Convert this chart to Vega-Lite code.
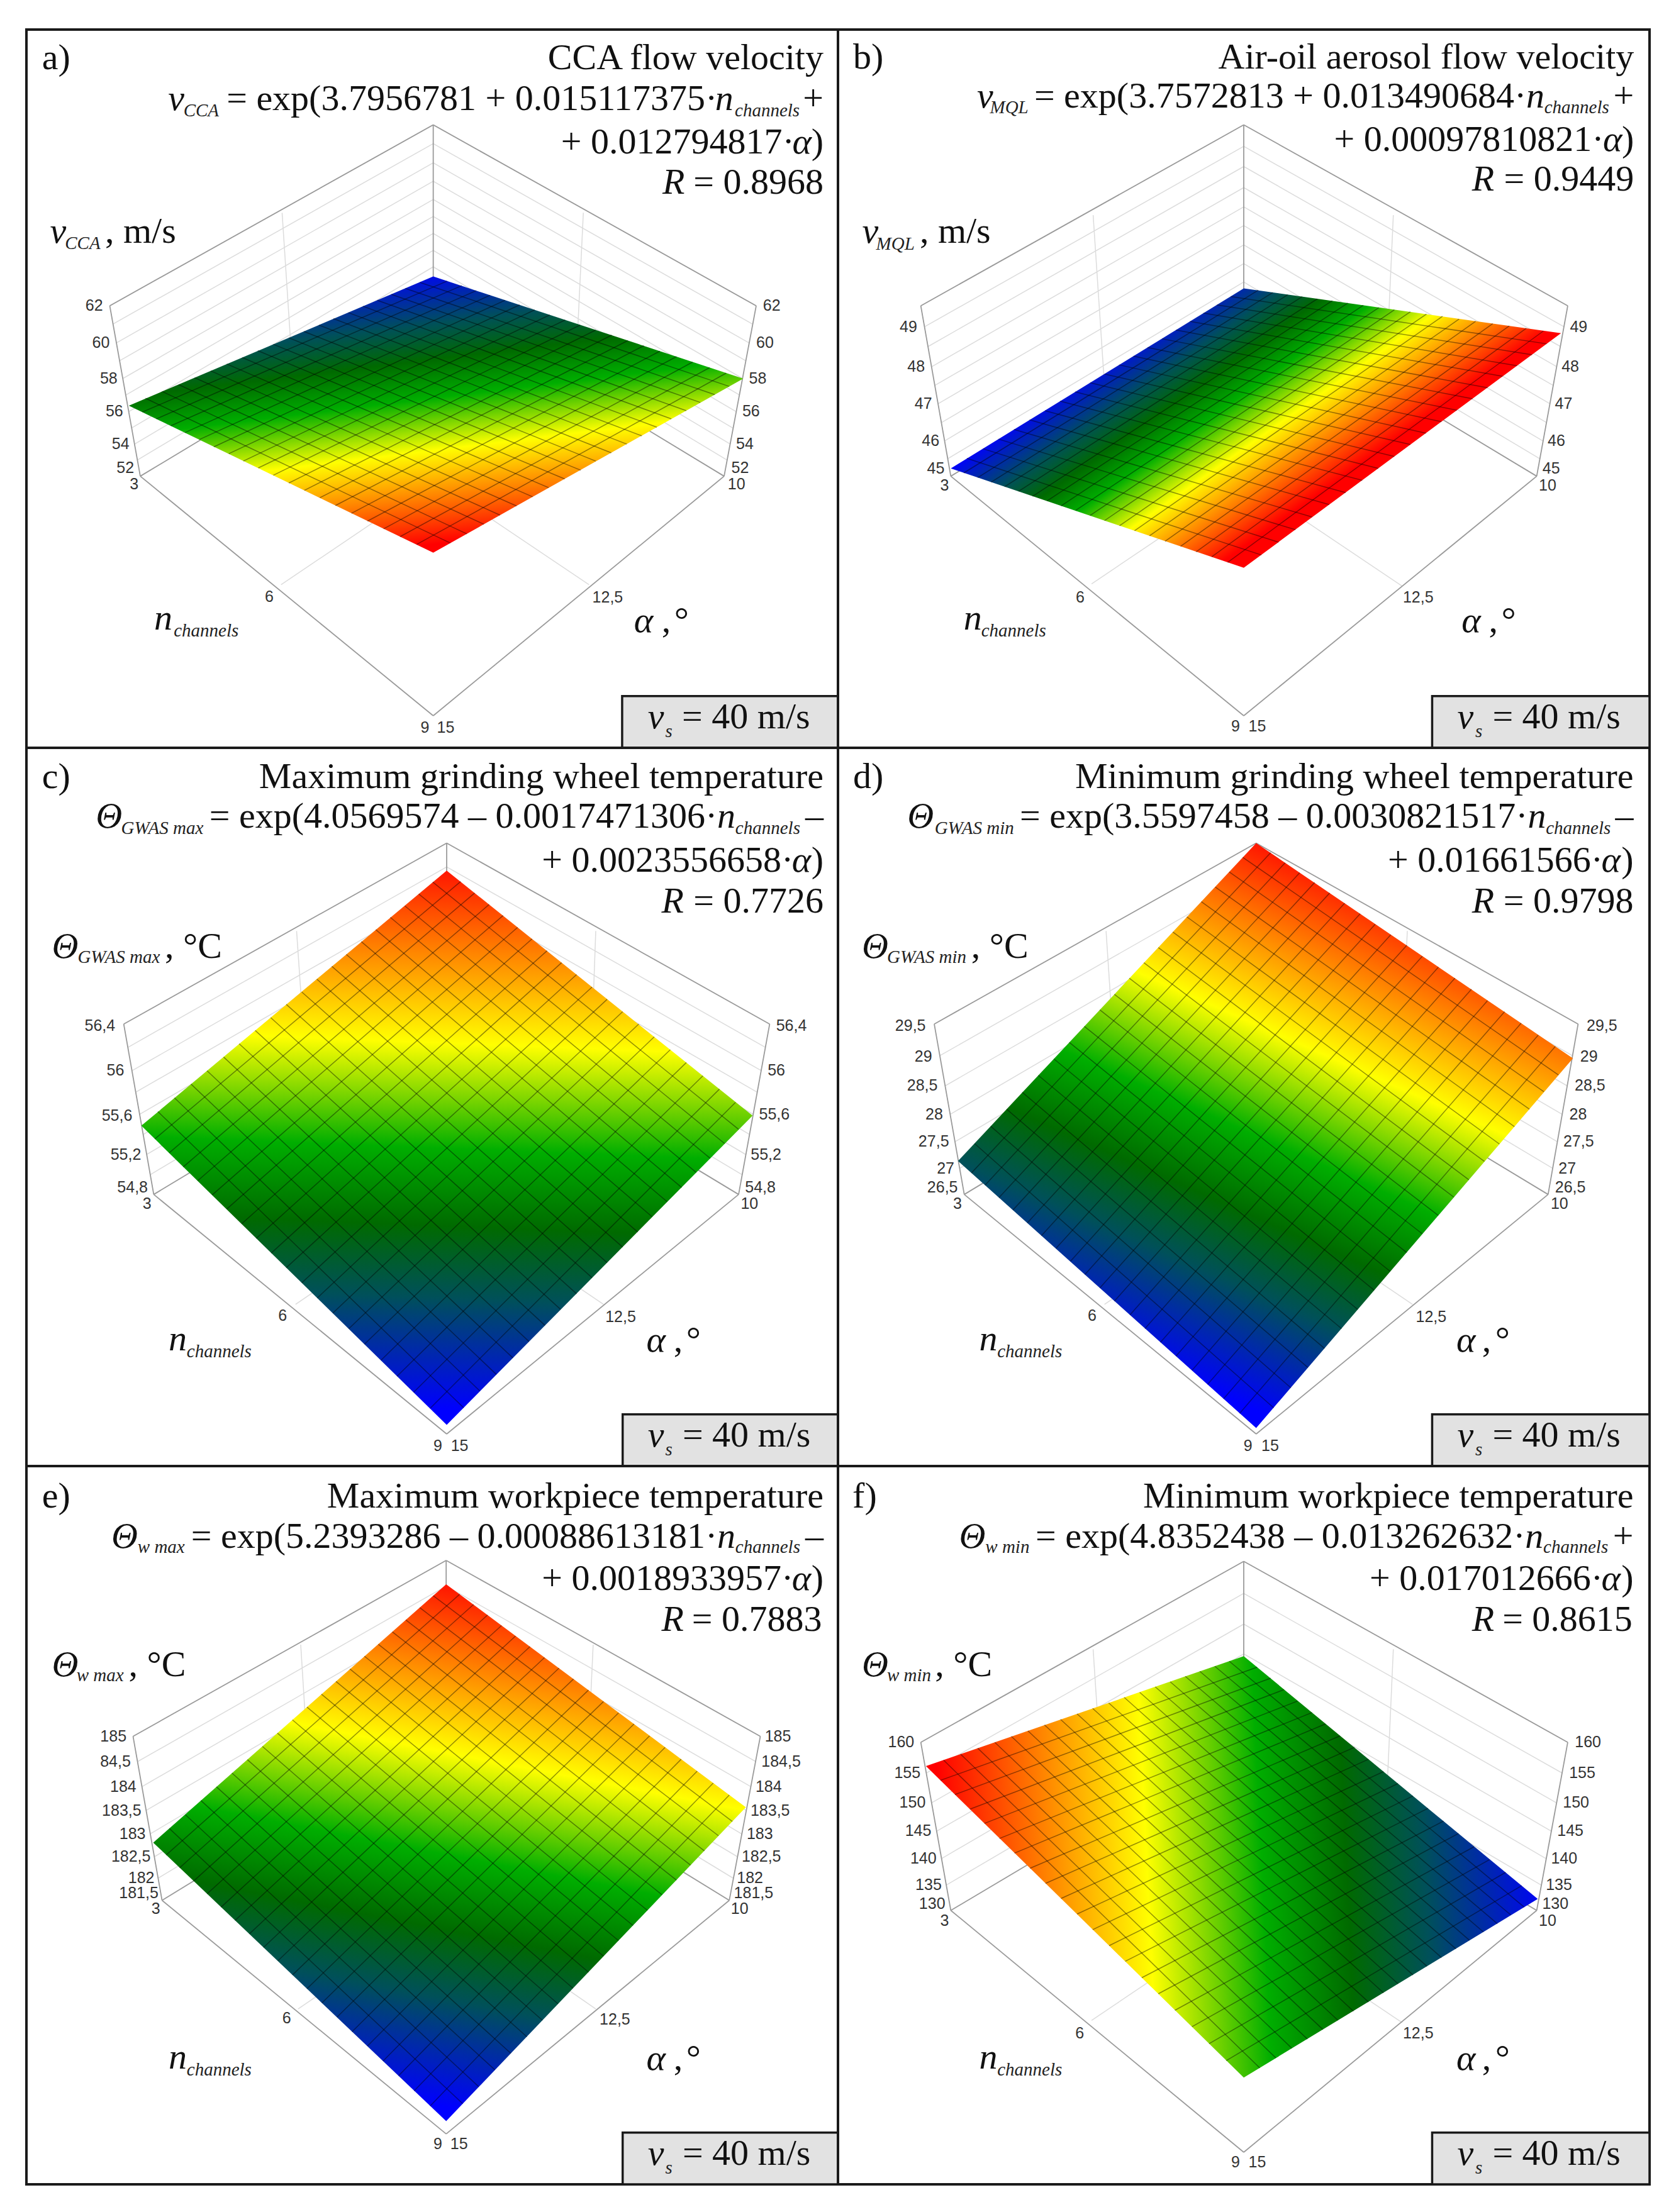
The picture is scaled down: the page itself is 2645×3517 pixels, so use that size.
{"$schema":"https://vega.github.io/schema/vega-lite/v6.json","background":"white","padding":{"left":40,"top":35,"right":0,"bottom":0},"spacing":0,"columns":2,"bounds":"flush","config":{"view":{"stroke":"#1a1a1a","strokeWidth":4},"header":{"labelColor":"#ffffff","titleColor":"#ffffff"},"headerFacet":{"labelColor":"#ffffff","titleColor":"#ffffff"}},
"data":{"values":[
{"p":"a","r":"w","x":161,"y":603,"x2":786,"y2":208,"x3":1410,"y3":603},{"p":"a","r":"w","x":167,"y":643,"x2":786,"y2":249,"x3":1403,"y3":643},{"p":"a","r":"w","x":174,"y":684,"x2":786,"y2":291,"x3":1396,"y3":684},{"p":"a","r":"w","x":180,"y":723,"x2":786,"y2":331,"x3":1390,"y3":723},{"p":"a","r":"w","x":186,"y":762,"x2":786,"y2":371,"x3":1384,"y3":762},{"p":"a","r":"w","x":192,"y":798,"x2":786,"y2":408,"x3":1378,"y3":798},{"p":"a","r":"w","x":198,"y":834,"x2":786,"y2":445,"x3":1371,"y3":834},{"p":"a","r":"w","x":203,"y":870,"x2":786,"y2":482,"x3":1365,"y3":870},{"p":"a","r":"w","x":209,"y":905,"x2":786,"y2":518,"x3":1360,"y3":905},{"p":"a","r":"w","x":214,"y":940,"x2":786,"y2":554,"x3":1354,"y3":940},
{"p":"b","r":"w","x":167,"y":649,"x2":784,"y2":255,"x3":1403,"y3":649},{"p":"b","r":"w","x":174,"y":692,"x2":784,"y2":299,"x3":1396,"y3":692},{"p":"b","r":"w","x":181,"y":736,"x2":784,"y2":345,"x3":1389,"y3":736},{"p":"b","r":"w","x":187,"y":777,"x2":784,"y2":387,"x3":1382,"y3":777},{"p":"b","r":"w","x":193,"y":817,"x2":784,"y2":428,"x3":1376,"y3":817},{"p":"b","r":"w","x":200,"y":858,"x2":784,"y2":470,"x3":1369,"y3":858},{"p":"b","r":"w","x":206,"y":898,"x2":784,"y2":511,"x3":1362,"y3":898},{"p":"b","r":"w","x":212,"y":937,"x2":784,"y2":551,"x3":1356,"y3":937},
{"p":"c","r":"w","x":196,"y":654,"x2":812,"y2":260,"x3":1428,"y3":654},{"p":"c","r":"w","x":204,"y":705,"x2":812,"y2":313,"x3":1420,"y3":705},{"p":"c","r":"w","x":211,"y":752,"x2":812,"y2":361,"x3":1412,"y3":752},{"p":"c","r":"w","x":219,"y":800,"x2":812,"y2":410,"x3":1404,"y3":800},{"p":"c","r":"w","x":226,"y":844,"x2":812,"y2":456,"x3":1397,"y3":844},{"p":"c","r":"w","x":232,"y":888,"x2":812,"y2":501,"x3":1390,"y3":888},{"p":"c","r":"w","x":239,"y":932,"x2":812,"y2":546,"x3":1383,"y3":932},
{"p":"d","r":"w","x":197,"y":672,"x2":808,"y2":279,"x3":1419,"y3":672},{"p":"d","r":"w","x":207,"y":738,"x2":808,"y2":347,"x3":1409,"y3":738},{"p":"d","r":"w","x":217,"y":800,"x2":808,"y2":410,"x3":1399,"y3":800},{"p":"d","r":"w","x":226,"y":860,"x2":808,"y2":472,"x3":1390,"y3":860},{"p":"d","r":"w","x":235,"y":918,"x2":808,"y2":532,"x3":1381,"y3":918},
{"p":"e","r":"w","x":215,"y":645,"x2":811,"y2":262,"x3":1409,"y3":645},{"p":"e","r":"w","x":223,"y":700,"x2":811,"y2":317,"x3":1400,"y3":700},{"p":"e","r":"w","x":231,"y":752,"x2":811,"y2":370,"x3":1391,"y3":752},{"p":"e","r":"w","x":239,"y":803,"x2":811,"y2":421,"x3":1382,"y3":803},{"p":"e","r":"w","x":247,"y":853,"x2":811,"y2":472,"x3":1374,"y3":853},{"p":"e","r":"w","x":254,"y":900,"x2":811,"y2":519,"x3":1366,"y3":900},
{"p":"f","r":"w","x":171,"y":670,"x2":784,"y2":278,"x3":1399,"y3":670},{"p":"f","r":"w","x":181,"y":735,"x2":784,"y2":345,"x3":1388,"y3":735},{"p":"f","r":"w","x":191,"y":797,"x2":784,"y2":410,"x3":1378,"y3":797},{"p":"f","r":"w","x":200,"y":857,"x2":784,"y2":472,"x3":1368,"y3":857},{"p":"f","r":"w","x":209,"y":915,"x2":784,"y2":533,"x3":1359,"y3":915},
{"p":"a","r":"v","x":494,"y":400,"x2":516,"y2":778},{"p":"a","r":"v","x":1076,"y":400,"x2":1060,"y2":778},{"p":"a","r":"v","x":492,"y":1212,"x2":1060,"y2":778},{"p":"a","r":"v","x":1087,"y":1212,"x2":516,"y2":778},
{"p":"b","r":"v","x":493,"y":405,"x2":515,"y2":778},{"p":"b","r":"v","x":1073,"y":405,"x2":1058,"y2":778},{"p":"b","r":"v","x":490,"y":1210,"x2":1058,"y2":778},{"p":"b","r":"v","x":1090,"y":1215,"x2":515,"y2":778},
{"p":"c","r":"v","x":522,"y":400,"x2":545,"y2":778},{"p":"c","r":"v","x":1100,"y":400,"x2":1088,"y2":778},{"p":"c","r":"v","x":520,"y":1215,"x2":1088,"y2":778},{"p":"c","r":"v","x":1115,"y":1215,"x2":545,"y2":778},
{"p":"d","r":"v","x":518,"y":400,"x2":540,"y2":778},{"p":"d","r":"v","x":1100,"y":400,"x2":1085,"y2":778},{"p":"d","r":"v","x":515,"y":1215,"x2":1085,"y2":778},{"p":"d","r":"v","x":1110,"y":1215,"x2":540,"y2":778},
{"p":"e","r":"v","x":530,"y":390,"x2":550,"y2":755},{"p":"e","r":"v","x":1095,"y":390,"x2":1080,"y2":755},{"p":"e","r":"v","x":525,"y":1185,"x2":1080,"y2":755},{"p":"e","r":"v","x":1100,"y":1185,"x2":550,"y2":755},
{"p":"f","r":"v","x":493,"y":400,"x2":515,"y2":778},{"p":"f","r":"v","x":1073,"y":400,"x2":1058,"y2":778},{"p":"f","r":"v","x":490,"y":1210,"x2":1058,"y2":778},{"p":"f","r":"v","x":1090,"y":1215,"x2":515,"y2":778},
{"p":"a","r":"f","x":161,"y":603,"x2":786,"y2":208},{"p":"a","r":"f","x":786,"y":208,"x2":1410,"y2":603},{"p":"a","r":"f","x":161,"y":603,"x2":220,"y2":975},{"p":"a","r":"f","x":1410,"y":603,"x2":1348,"y2":975},{"p":"a","r":"f","x":786,"y":208,"x2":786,"y2":590},{"p":"a","r":"f","x":220,"y":975,"x2":786,"y2":1498},{"p":"a","r":"f","x":1348,"y":975,"x2":786,"y2":1498},{"p":"a","r":"f","x":220,"y":975,"x2":786,"y2":590},{"p":"a","r":"f","x":1348,"y":975,"x2":786,"y2":590},
{"p":"b","r":"f","x":160,"y":603,"x2":784,"y2":208},{"p":"b","r":"f","x":784,"y":208,"x2":1410,"y2":603},{"p":"b","r":"f","x":160,"y":603,"x2":218,"y2":975},{"p":"b","r":"f","x":1410,"y":603,"x2":1350,"y2":975},{"p":"b","r":"f","x":784,"y":208,"x2":784,"y2":590},{"p":"b","r":"f","x":218,"y":975,"x2":784,"y2":1498},{"p":"b","r":"f","x":1350,"y":975,"x2":784,"y2":1498},{"p":"b","r":"f","x":218,"y":975,"x2":784,"y2":590},{"p":"b","r":"f","x":1350,"y":975,"x2":784,"y2":590},
{"p":"c","r":"f","x":188,"y":603,"x2":812,"y2":208},{"p":"c","r":"f","x":812,"y":208,"x2":1436,"y2":603},{"p":"c","r":"f","x":188,"y":603,"x2":246,"y2":975},{"p":"c","r":"f","x":1436,"y":603,"x2":1376,"y2":975},{"p":"c","r":"f","x":812,"y":208,"x2":812,"y2":590},{"p":"c","r":"f","x":246,"y":975,"x2":812,"y2":1498},{"p":"c","r":"f","x":1376,"y":975,"x2":812,"y2":1498},{"p":"c","r":"f","x":246,"y":975,"x2":812,"y2":590},{"p":"c","r":"f","x":1376,"y":975,"x2":812,"y2":590},
{"p":"d","r":"f","x":186,"y":603,"x2":808,"y2":208},{"p":"d","r":"f","x":808,"y":208,"x2":1430,"y2":603},{"p":"d","r":"f","x":186,"y":603,"x2":244,"y2":975},{"p":"d","r":"f","x":1430,"y":603,"x2":1372,"y2":975},{"p":"d","r":"f","x":808,"y":208,"x2":808,"y2":590},{"p":"d","r":"f","x":244,"y":975,"x2":808,"y2":1498},{"p":"d","r":"f","x":1372,"y":975,"x2":808,"y2":1498},{"p":"d","r":"f","x":244,"y":975,"x2":808,"y2":590},{"p":"d","r":"f","x":1372,"y":975,"x2":808,"y2":590},
{"p":"e","r":"f","x":206,"y":590,"x2":811,"y2":206},{"p":"e","r":"f","x":811,"y":206,"x2":1418,"y2":590},{"p":"e","r":"f","x":206,"y":590,"x2":262,"y2":948},{"p":"e","r":"f","x":1418,"y":590,"x2":1358,"y2":948},{"p":"e","r":"f","x":811,"y":206,"x2":811,"y2":568},{"p":"e","r":"f","x":262,"y":948,"x2":811,"y2":1458},{"p":"e","r":"f","x":1358,"y":948,"x2":811,"y2":1458},{"p":"e","r":"f","x":262,"y":948,"x2":811,"y2":568},{"p":"e","r":"f","x":1358,"y":948,"x2":811,"y2":568},
{"p":"f","r":"f","x":160,"y":603,"x2":784,"y2":208},{"p":"f","r":"f","x":784,"y":208,"x2":1410,"y2":603},{"p":"f","r":"f","x":160,"y":603,"x2":218,"y2":970},{"p":"f","r":"f","x":1410,"y":603,"x2":1350,"y2":970},{"p":"f","r":"f","x":784,"y":208,"x2":784,"y2":590},{"p":"f","r":"f","x":218,"y":970,"x2":784,"y2":1498},{"p":"f","r":"f","x":1350,"y":970,"x2":784,"y2":1498},{"p":"f","r":"f","x":218,"y":970,"x2":784,"y2":590},{"p":"f","r":"f","x":1350,"y":970,"x2":784,"y2":590},
{"p":"a","r":"s","x":198,"y":821,"y2":821},{"p":"a","r":"s","x":786,"y":539,"y2":1142},{"p":"a","r":"s","x":1385,"y":762,"y2":762},
{"p":"b","r":"s","x":218,"y":958,"y2":958},{"p":"b","r":"s","x":784,"y":565,"y2":1175},{"p":"b","r":"s","x":1397,"y":663,"y2":663},
{"p":"c","r":"s","x":222,"y":825,"y2":825},{"p":"c","r":"s","x":812,"y":268,"y2":1478},{"p":"c","r":"s","x":1403,"y":803,"y2":803},
{"p":"d","r":"s","x":232,"y":902,"y2":902},{"p":"d","r":"s","x":808,"y":208,"y2":1485},{"p":"d","r":"s","x":1420,"y":678,"y2":678},
{"p":"e","r":"s","x":245,"y":822,"y2":822},{"p":"e","r":"s","x":811,"y":258,"y2":1430},{"p":"e","r":"s","x":1390,"y":745,"y2":745},
{"p":"f","r":"s","x":170,"y":655,"y2":655},{"p":"f","r":"s","x":784,"y":415,"y2":1335},{"p":"f","r":"s","x":1352,"y":945,"y2":945},
{"p":"a","r":"g","x":230,"y":805,"x2":819,"y2":1121},{"p":"a","r":"g","x":262,"y":790,"x2":851,"y2":1101},{"p":"a","r":"g","x":294,"y":775,"x2":884,"y2":1080},{"p":"a","r":"g","x":325,"y":760,"x2":915,"y2":1060},{"p":"a","r":"g","x":356,"y":745,"x2":947,"y2":1040},{"p":"a","r":"g","x":387,"y":730,"x2":978,"y2":1020},{"p":"a","r":"g","x":417,"y":716,"x2":1009,"y2":1000},{"p":"a","r":"g","x":447,"y":701,"x2":1040,"y2":981},{"p":"a","r":"g","x":477,"y":687,"x2":1071,"y2":962},{"p":"a","r":"g","x":507,"y":673,"x2":1100,"y2":942},{"p":"a","r":"g","x":536,"y":659,"x2":1130,"y2":924},{"p":"a","r":"g","x":565,"y":645,"x2":1160,"y2":905},{"p":"a","r":"g","x":593,"y":631,"x2":1189,"y2":887},{"p":"a","r":"g","x":622,"y":618,"x2":1218,"y2":868},{"p":"a","r":"g","x":650,"y":604,"x2":1246,"y2":850},{"p":"a","r":"g","x":678,"y":591,"x2":1275,"y2":832},{"p":"a","r":"g","x":705,"y":578,"x2":1302,"y2":814},{"p":"a","r":"g","x":732,"y":565,"x2":1330,"y2":797},{"p":"a","r":"g","x":760,"y":552,"x2":1358,"y2":779},
{"p":"a","r":"g","x":754,"y":1124,"x2":1352,"y2":750},{"p":"a","r":"g","x":722,"y":1107,"x2":1320,"y2":738},{"p":"a","r":"g","x":690,"y":1090,"x2":1287,"y2":726},{"p":"a","r":"g","x":659,"y":1073,"x2":1256,"y2":714},{"p":"a","r":"g","x":628,"y":1056,"x2":1224,"y2":702},{"p":"a","r":"g","x":597,"y":1039,"x2":1193,"y2":690},{"p":"a","r":"g","x":567,"y":1022,"x2":1162,"y2":679},{"p":"a","r":"g","x":537,"y":1006,"x2":1131,"y2":667},{"p":"a","r":"g","x":507,"y":990,"x2":1100,"y2":656},{"p":"a","r":"g","x":477,"y":973,"x2":1070,"y2":645},{"p":"a","r":"g","x":448,"y":957,"x2":1041,"y2":634},{"p":"a","r":"g","x":419,"y":942,"x2":1011,"y2":623},{"p":"a","r":"g","x":391,"y":926,"x2":982,"y2":612},{"p":"a","r":"g","x":362,"y":911,"x2":953,"y2":601},{"p":"a","r":"g","x":334,"y":895,"x2":925,"y2":591},{"p":"a","r":"g","x":306,"y":880,"x2":896,"y2":580},{"p":"a","r":"g","x":279,"y":865,"x2":869,"y2":570},{"p":"a","r":"g","x":251,"y":850,"x2":841,"y2":559},{"p":"a","r":"g","x":224,"y":835,"x2":813,"y2":549},
{"p":"b","r":"g","x":249,"y":936,"x2":818,"y2":1147},{"p":"b","r":"g","x":280,"y":915,"x2":851,"y2":1119},{"p":"b","r":"g","x":310,"y":894,"x2":884,"y2":1092},{"p":"b","r":"g","x":340,"y":873,"x2":916,"y2":1064},{"p":"b","r":"g","x":370,"y":852,"x2":949,"y2":1037},{"p":"b","r":"g","x":400,"y":832,"x2":981,"y2":1011},{"p":"b","r":"g","x":429,"y":811,"x2":1013,"y2":984},{"p":"b","r":"g","x":458,"y":791,"x2":1044,"y2":958},{"p":"b","r":"g","x":487,"y":771,"x2":1075,"y2":932},{"p":"b","r":"g","x":515,"y":752,"x2":1106,"y2":906},{"p":"b","r":"g","x":543,"y":732,"x2":1136,"y2":881},{"p":"b","r":"g","x":571,"y":713,"x2":1166,"y2":856},{"p":"b","r":"g","x":598,"y":694,"x2":1196,"y2":831},{"p":"b","r":"g","x":626,"y":675,"x2":1226,"y2":806},{"p":"b","r":"g","x":653,"y":656,"x2":1255,"y2":782},{"p":"b","r":"g","x":680,"y":637,"x2":1284,"y2":757},{"p":"b","r":"g","x":706,"y":619,"x2":1312,"y2":734},{"p":"b","r":"g","x":732,"y":601,"x2":1341,"y2":710},{"p":"b","r":"g","x":759,"y":583,"x2":1369,"y2":686},
{"p":"b","r":"g","x":753,"y":1163,"x2":1363,"y2":658},{"p":"b","r":"g","x":722,"y":1151,"x2":1330,"y2":652},{"p":"b","r":"g","x":692,"y":1140,"x2":1297,"y2":647},{"p":"b","r":"g","x":662,"y":1128,"x2":1265,"y2":642},{"p":"b","r":"g","x":632,"y":1117,"x2":1232,"y2":637},{"p":"b","r":"g","x":602,"y":1105,"x2":1200,"y2":632},{"p":"b","r":"g","x":573,"y":1094,"x2":1168,"y2":626},{"p":"b","r":"g","x":544,"y":1083,"x2":1137,"y2":621},{"p":"b","r":"g","x":515,"y":1072,"x2":1106,"y2":616},{"p":"b","r":"g","x":487,"y":1061,"x2":1075,"y2":612},{"p":"b","r":"g","x":459,"y":1050,"x2":1045,"y2":607},{"p":"b","r":"g","x":431,"y":1040,"x2":1015,"y2":602},{"p":"b","r":"g","x":404,"y":1029,"x2":985,"y2":597},{"p":"b","r":"g","x":376,"y":1019,"x2":955,"y2":592},{"p":"b","r":"g","x":349,"y":1008,"x2":926,"y2":588},{"p":"b","r":"g","x":322,"y":998,"x2":897,"y2":583},{"p":"b","r":"g","x":296,"y":988,"x2":869,"y2":579},{"p":"b","r":"g","x":270,"y":978,"x2":840,"y2":574},{"p":"b","r":"g","x":243,"y":968,"x2":812,"y2":569},
{"p":"c","r":"g","x":254,"y":794,"x2":845,"y2":1441},{"p":"c","r":"g","x":286,"y":764,"x2":876,"y2":1404},{"p":"c","r":"g","x":318,"y":734,"x2":908,"y2":1368},{"p":"c","r":"g","x":349,"y":705,"x2":940,"y2":1332},{"p":"c","r":"g","x":381,"y":675,"x2":971,"y2":1296},{"p":"c","r":"g","x":411,"y":646,"x2":1002,"y2":1261},{"p":"c","r":"g","x":442,"y":617,"x2":1032,"y2":1226},{"p":"c","r":"g","x":472,"y":589,"x2":1063,"y2":1192},{"p":"c","r":"g","x":502,"y":560,"x2":1093,"y2":1157},{"p":"c","r":"g","x":532,"y":533,"x2":1122,"y2":1124},{"p":"c","r":"g","x":561,"y":505,"x2":1152,"y2":1090},{"p":"c","r":"g","x":590,"y":477,"x2":1181,"y2":1057},{"p":"c","r":"g","x":618,"y":451,"x2":1209,"y2":1024},{"p":"c","r":"g","x":647,"y":423,"x2":1238,"y2":991},{"p":"c","r":"g","x":675,"y":397,"x2":1266,"y2":960},{"p":"c","r":"g","x":703,"y":370,"x2":1294,"y2":927},{"p":"c","r":"g","x":731,"y":345,"x2":1321,"y2":896},{"p":"c","r":"g","x":758,"y":319,"x2":1349,"y2":864},{"p":"c","r":"g","x":785,"y":293,"x2":1376,"y2":833},
{"p":"c","r":"g","x":780,"y":1442,"x2":1370,"y2":774},{"p":"c","r":"g","x":748,"y":1407,"x2":1339,"y2":745},{"p":"c","r":"g","x":716,"y":1372,"x2":1307,"y2":716},{"p":"c","r":"g","x":685,"y":1337,"x2":1275,"y2":687},{"p":"c","r":"g","x":653,"y":1302,"x2":1244,"y2":659},{"p":"c","r":"g","x":623,"y":1268,"x2":1213,"y2":631},{"p":"c","r":"g","x":592,"y":1234,"x2":1183,"y2":603},{"p":"c","r":"g","x":562,"y":1201,"x2":1152,"y2":576},{"p":"c","r":"g","x":532,"y":1168,"x2":1122,"y2":549},{"p":"c","r":"g","x":502,"y":1135,"x2":1093,"y2":522},{"p":"c","r":"g","x":473,"y":1103,"x2":1063,"y2":495},{"p":"c","r":"g","x":444,"y":1071,"x2":1034,"y2":469},{"p":"c","r":"g","x":416,"y":1039,"x2":1006,"y2":443},{"p":"c","r":"g","x":387,"y":1007,"x2":977,"y2":417},{"p":"c","r":"g","x":359,"y":976,"x2":949,"y2":392},{"p":"c","r":"g","x":331,"y":945,"x2":921,"y2":366},{"p":"c","r":"g","x":303,"y":915,"x2":894,"y2":342},{"p":"c","r":"g","x":276,"y":884,"x2":866,"y2":317},{"p":"c","r":"g","x":248,"y":854,"x2":839,"y2":292},
{"p":"d","r":"g","x":264,"y":864,"x2":842,"y2":1441},{"p":"d","r":"g","x":295,"y":826,"x2":875,"y2":1397},{"p":"d","r":"g","x":326,"y":789,"x2":908,"y2":1353},{"p":"d","r":"g","x":356,"y":752,"x2":940,"y2":1311},{"p":"d","r":"g","x":387,"y":715,"x2":973,"y2":1268},{"p":"d","r":"g","x":417,"y":679,"x2":1004,"y2":1226},{"p":"d","r":"g","x":447,"y":643,"x2":1036,"y2":1184},{"p":"d","r":"g","x":476,"y":608,"x2":1067,"y2":1143},{"p":"d","r":"g","x":506,"y":572,"x2":1099,"y2":1102},{"p":"d","r":"g","x":534,"y":538,"x2":1129,"y2":1061},{"p":"d","r":"g","x":563,"y":503,"x2":1160,"y2":1021},{"p":"d","r":"g","x":591,"y":469,"x2":1190,"y2":981},{"p":"d","r":"g","x":619,"y":436,"x2":1219,"y2":943},{"p":"d","r":"g","x":647,"y":402,"x2":1249,"y2":903},{"p":"d","r":"g","x":674,"y":369,"x2":1278,"y2":865},{"p":"d","r":"g","x":702,"y":336,"x2":1307,"y2":827},{"p":"d","r":"g","x":729,"y":304,"x2":1336,"y2":789},{"p":"d","r":"g","x":756,"y":271,"x2":1364,"y2":751},{"p":"d","r":"g","x":782,"y":239,"x2":1392,"y2":714},
{"p":"d","r":"g","x":776,"y":1453,"x2":1386,"y2":652},{"p":"d","r":"g","x":745,"y":1421,"x2":1353,"y2":627},{"p":"d","r":"g","x":714,"y":1390,"x2":1320,"y2":601},{"p":"d","r":"g","x":684,"y":1359,"x2":1288,"y2":576},{"p":"d","r":"g","x":653,"y":1328,"x2":1255,"y2":552},{"p":"d","r":"g","x":623,"y":1298,"x2":1224,"y2":527},{"p":"d","r":"g","x":593,"y":1268,"x2":1192,"y2":503},{"p":"d","r":"g","x":564,"y":1238,"x2":1160,"y2":479},{"p":"d","r":"g","x":534,"y":1208,"x2":1129,"y2":455},{"p":"d","r":"g","x":506,"y":1179,"x2":1099,"y2":431},{"p":"d","r":"g","x":477,"y":1150,"x2":1068,"y2":408},{"p":"d","r":"g","x":449,"y":1121,"x2":1038,"y2":385},{"p":"d","r":"g","x":421,"y":1093,"x2":1009,"y2":362},{"p":"d","r":"g","x":393,"y":1065,"x2":979,"y2":339},{"p":"d","r":"g","x":366,"y":1037,"x2":950,"y2":317},{"p":"d","r":"g","x":338,"y":1009,"x2":921,"y2":294},{"p":"d","r":"g","x":311,"y":982,"x2":892,"y2":273},{"p":"d","r":"g","x":284,"y":955,"x2":864,"y2":251},{"p":"d","r":"g","x":258,"y":928,"x2":836,"y2":229},
{"p":"e","r":"g","x":276,"y":791,"x2":843,"y2":1392},{"p":"e","r":"g","x":307,"y":761,"x2":874,"y2":1355},{"p":"e","r":"g","x":337,"y":730,"x2":905,"y2":1318},{"p":"e","r":"g","x":367,"y":700,"x2":936,"y2":1282},{"p":"e","r":"g","x":397,"y":670,"x2":967,"y2":1246},{"p":"e","r":"g","x":427,"y":641,"x2":997,"y2":1210},{"p":"e","r":"g","x":456,"y":612,"x2":1027,"y2":1174},{"p":"e","r":"g","x":485,"y":583,"x2":1056,"y2":1140},{"p":"e","r":"g","x":514,"y":554,"x2":1086,"y2":1105},{"p":"e","r":"g","x":542,"y":526,"x2":1115,"y2":1070},{"p":"e","r":"g","x":570,"y":498,"x2":1144,"y2":1036},{"p":"e","r":"g","x":598,"y":470,"x2":1172,"y2":1003},{"p":"e","r":"g","x":625,"y":443,"x2":1200,"y2":970},{"p":"e","r":"g","x":653,"y":415,"x2":1228,"y2":936},{"p":"e","r":"g","x":680,"y":389,"x2":1256,"y2":904},{"p":"e","r":"g","x":707,"y":362,"x2":1283,"y2":871},{"p":"e","r":"g","x":733,"y":336,"x2":1310,"y2":840},{"p":"e","r":"g","x":760,"y":309,"x2":1337,"y2":807},{"p":"e","r":"g","x":786,"y":283,"x2":1364,"y2":776},
{"p":"e","r":"g","x":780,"y":1397,"x2":1358,"y2":718},{"p":"e","r":"g","x":749,"y":1364,"x2":1327,"y2":692},{"p":"e","r":"g","x":719,"y":1331,"x2":1296,"y2":666},{"p":"e","r":"g","x":689,"y":1299,"x2":1265,"y2":640},{"p":"e","r":"g","x":659,"y":1266,"x2":1234,"y2":614},{"p":"e","r":"g","x":629,"y":1235,"x2":1204,"y2":589},{"p":"e","r":"g","x":600,"y":1203,"x2":1174,"y2":563},{"p":"e","r":"g","x":571,"y":1172,"x2":1144,"y2":539},{"p":"e","r":"g","x":542,"y":1141,"x2":1115,"y2":514},{"p":"e","r":"g","x":514,"y":1111,"x2":1086,"y2":489},{"p":"e","r":"g","x":486,"y":1080,"x2":1057,"y2":465},{"p":"e","r":"g","x":458,"y":1051,"x2":1029,"y2":441},{"p":"e","r":"g","x":431,"y":1021,"x2":1001,"y2":418},{"p":"e","r":"g","x":403,"y":992,"x2":973,"y2":394},{"p":"e","r":"g","x":376,"y":963,"x2":945,"y2":371},{"p":"e","r":"g","x":349,"y":934,"x2":918,"y2":348},{"p":"e","r":"g","x":323,"y":906,"x2":891,"y2":325},{"p":"e","r":"g","x":296,"y":877,"x2":864,"y2":302},{"p":"e","r":"g","x":270,"y":849,"x2":837,"y2":280},
{"p":"f","r":"g","x":204,"y":642,"x2":815,"y2":1314},{"p":"f","r":"g","x":237,"y":629,"x2":846,"y2":1292},{"p":"f","r":"g","x":270,"y":616,"x2":877,"y2":1271},{"p":"f","r":"g","x":303,"y":603,"x2":907,"y2":1251},{"p":"f","r":"g","x":335,"y":590,"x2":937,"y2":1230},{"p":"f","r":"g","x":367,"y":578,"x2":966,"y2":1210},{"p":"f","r":"g","x":399,"y":565,"x2":996,"y2":1190},{"p":"f","r":"g","x":430,"y":553,"x2":1025,"y2":1170},{"p":"f","r":"g","x":462,"y":541,"x2":1054,"y2":1150},{"p":"f","r":"g","x":492,"y":529,"x2":1082,"y2":1130},{"p":"f","r":"g","x":523,"y":517,"x2":1111,"y2":1111},{"p":"f","r":"g","x":553,"y":505,"x2":1138,"y2":1092},{"p":"f","r":"g","x":583,"y":494,"x2":1166,"y2":1073},{"p":"f","r":"g","x":613,"y":482,"x2":1194,"y2":1054},{"p":"f","r":"g","x":642,"y":471,"x2":1220,"y2":1035},{"p":"f","r":"g","x":671,"y":459,"x2":1247,"y2":1017},{"p":"f","r":"g","x":699,"y":448,"x2":1274,"y2":999},{"p":"f","r":"g","x":728,"y":437,"x2":1300,"y2":980},{"p":"f","r":"g","x":756,"y":426,"x2":1326,"y2":963},
{"p":"f","r":"g","x":750,"y":1298,"x2":1321,"y2":916},{"p":"f","r":"g","x":717,"y":1261,"x2":1290,"y2":887},{"p":"f","r":"g","x":684,"y":1224,"x2":1259,"y2":859},{"p":"f","r":"g","x":651,"y":1188,"x2":1229,"y2":831},{"p":"f","r":"g","x":619,"y":1152,"x2":1199,"y2":802},{"p":"f","r":"g","x":587,"y":1117,"x2":1170,"y2":775},{"p":"f","r":"g","x":555,"y":1081,"x2":1140,"y2":747},{"p":"f","r":"g","x":524,"y":1047,"x2":1111,"y2":720},{"p":"f","r":"g","x":492,"y":1012,"x2":1082,"y2":693},{"p":"f","r":"g","x":462,"y":978,"x2":1054,"y2":667},{"p":"f","r":"g","x":431,"y":944,"x2":1025,"y2":640},{"p":"f","r":"g","x":401,"y":911,"x2":998,"y2":614},{"p":"f","r":"g","x":371,"y":878,"x2":970,"y2":589},{"p":"f","r":"g","x":341,"y":845,"x2":942,"y2":563},{"p":"f","r":"g","x":312,"y":813,"x2":916,"y2":538},{"p":"f","r":"g","x":283,"y":780,"x2":888,"y2":513},{"p":"f","r":"g","x":255,"y":749,"x2":862,"y2":488},{"p":"f","r":"g","x":226,"y":717,"x2":836,"y2":463},{"p":"f","r":"g","x":198,"y":686,"x2":810,"y2":439},
{"p":"a","r":"b","x":1151,"y":1455,"x2":1568,"y2":1568},{"p":"b","r":"b","x":1148,"y":1455,"x2":1568,"y2":1568},{"p":"c","r":"b","x":1152,"y":1455,"x2":1568,"y2":1568},{"p":"d","r":"b","x":1148,"y":1455,"x2":1568,"y2":1568},{"p":"e","r":"b","x":1152,"y":1455,"x2":1568,"y2":1568},{"p":"f","r":"b","x":1148,"y":1455,"x2":1568,"y2":1568},
{"p":"a","r":"t","t":"a)","x":85,"y":87},{"p":"a","r":"t","t":"CCA flow velocity","x":1540,"y":87},{"p":"a","r":"t","t":"= exp(3.7956781 + 0.015117375·","x":1335,"y":176},{"p":"a","r":"t","t":"+","x":1540,"y":176},{"p":"a","r":"t","t":"+ 0.012794817·","x":1484,"y":270},{"p":"a","r":"t","t":")","x":1540,"y":270},{"p":"a","r":"t","t":"= 0.8968","x":1540,"y":358},{"p":"a","r":"t","t":", m/s","x":289,"y":465},{"p":"a","r":"t","t":",","x":1245,"y":1315},{"p":"a","r":"t","t":"°","x":1280,"y":1315},{"p":"a","r":"t","t":"= 40 m/s","x":1514,"y":1525},
{"p":"a","r":"i","t":"v","x":305,"y":176},{"p":"a","r":"i","t":"n","x":1366,"y":176},{"p":"a","r":"i","t":"α","x":1517,"y":270},{"p":"a","r":"i","t":"R","x":1272,"y":358},{"p":"a","r":"i","t":"v","x":77,"y":465},{"p":"a","r":"i","t":"α","x":1211,"y":1315},{"p":"a","r":"i","t":"n","x":282,"y":1310},{"p":"a","r":"i","t":"v","x":1232,"y":1525},
{"p":"a","r":"u","t":"CCA","x":372,"y":189},{"p":"a","r":"u","t":"channels","x":1494,"y":189},{"p":"a","r":"u","t":"CCA","x":143,"y":479},{"p":"a","r":"u","t":"channels","x":410,"y":1325},{"p":"a","r":"u","t":"s","x":1248,"y":1545},
{"p":"b","r":"t","t":"b)","x":88,"y":85},{"p":"b","r":"t","t":"Air-oil aerosol flow velocity","x":1538,"y":85},{"p":"b","r":"t","t":"= exp(3.7572813 + 0.013490684·","x":1330,"y":170},{"p":"b","r":"t","t":"+","x":1538,"y":170},{"p":"b","r":"t","t":"+ 0.00097810821·","x":1480,"y":265},{"p":"b","r":"t","t":")","x":1538,"y":265},{"p":"b","r":"t","t":"= 0.9449","x":1538,"y":352},{"p":"b","r":"t","t":", m/s","x":295,"y":465},{"p":"b","r":"t","t":",","x":1275,"y":1315},{"p":"b","r":"t","t":"°","x":1310,"y":1315},{"p":"b","r":"t","t":"= 40 m/s","x":1512,"y":1525},
{"p":"b","r":"i","t":"v","x":300,"y":170},{"p":"b","r":"i","t":"n","x":1365,"y":170},{"p":"b","r":"i","t":"α","x":1515,"y":265},{"p":"b","r":"i","t":"R","x":1268,"y":352},{"p":"b","r":"i","t":"v","x":78,"y":465},{"p":"b","r":"i","t":"α","x":1242,"y":1315},{"p":"b","r":"i","t":"n","x":278,"y":1310},{"p":"b","r":"i","t":"v","x":1228,"y":1525},
{"p":"b","r":"u","t":"MQL","x":368,"y":183},{"p":"b","r":"u","t":"channels","x":1490,"y":183},{"p":"b","r":"u","t":"MQL","x":148,"y":480},{"p":"b","r":"u","t":"channels","x":402,"y":1325},{"p":"b","r":"u","t":"s","x":1245,"y":1545},
{"p":"c","r":"t","t":"c)","x":85,"y":88},{"p":"c","r":"t","t":"Maximum grinding wheel temperature","x":1540,"y":88},{"p":"c","r":"t","t":"= exp(4.0569574 – 0.0017471306·","x":1335,"y":175},{"p":"c","r":"t","t":"–","x":1540,"y":175},{"p":"c","r":"t","t":"+ 0.0023556658·","x":1482,"y":270},{"p":"c","r":"t","t":")","x":1540,"y":270},{"p":"c","r":"t","t":"= 0.7726","x":1540,"y":360},{"p":"c","r":"t","t":", °C","x":378,"y":458},{"p":"c","r":"t","t":",","x":1268,"y":1318},{"p":"c","r":"t","t":"°","x":1303,"y":1318},{"p":"c","r":"t","t":"= 40 m/s","x":1515,"y":1525},
{"p":"c","r":"i","t":"Θ","x":185,"y":175},{"p":"c","r":"i","t":"n","x":1370,"y":175},{"p":"c","r":"i","t":"α","x":1516,"y":270},{"p":"c","r":"i","t":"R","x":1270,"y":360},{"p":"c","r":"i","t":"Θ","x":100,"y":458},{"p":"c","r":"i","t":"α","x":1235,"y":1318},{"p":"c","r":"i","t":"n","x":310,"y":1315},{"p":"c","r":"i","t":"v","x":1232,"y":1525},
{"p":"c","r":"u","t":"GWAS max","x":342,"y":188},{"p":"c","r":"u","t":"channels","x":1495,"y":188},{"p":"c","r":"u","t":"GWAS max","x":258,"y":470},{"p":"c","r":"u","t":"channels","x":435,"y":1330},{"p":"c","r":"u","t":"s","x":1248,"y":1545},
{"p":"d","r":"t","t":"d)","x":88,"y":88},{"p":"d","r":"t","t":"Minimum grinding wheel temperature","x":1537,"y":88},{"p":"d","r":"t","t":"= exp(3.5597458 – 0.0030821517·","x":1333,"y":175},{"p":"d","r":"t","t":"–","x":1537,"y":175},{"p":"d","r":"t","t":"+ 0.01661566·","x":1478,"y":270},{"p":"d","r":"t","t":")","x":1537,"y":270},{"p":"d","r":"t","t":"= 0.9798","x":1537,"y":360},{"p":"d","r":"t","t":", °C","x":368,"y":458},{"p":"d","r":"t","t":",","x":1262,"y":1318},{"p":"d","r":"t","t":"°","x":1298,"y":1318},{"p":"d","r":"t","t":"= 40 m/s","x":1512,"y":1525},
{"p":"d","r":"i","t":"Θ","x":185,"y":175},{"p":"d","r":"i","t":"n","x":1368,"y":175},{"p":"d","r":"i","t":"α","x":1512,"y":270},{"p":"d","r":"i","t":"R","x":1268,"y":360},{"p":"d","r":"i","t":"Θ","x":97,"y":458},{"p":"d","r":"i","t":"α","x":1232,"y":1318},{"p":"d","r":"i","t":"n","x":308,"y":1315},{"p":"d","r":"i","t":"v","x":1228,"y":1525},
{"p":"d","r":"u","t":"GWAS min","x":340,"y":188},{"p":"d","r":"u","t":"channels","x":1493,"y":188},{"p":"d","r":"u","t":"GWAS min","x":248,"y":470},{"p":"d","r":"u","t":"channels","x":433,"y":1330},{"p":"d","r":"u","t":"s","x":1245,"y":1545},
{"p":"e","r":"t","t":"e)","x":85,"y":90},{"p":"e","r":"t","t":"Maximum workpiece temperature","x":1540,"y":90},{"p":"e","r":"t","t":"= exp(5.2393286 – 0.00088613181·","x":1335,"y":178},{"p":"e","r":"t","t":"–","x":1540,"y":178},{"p":"e","r":"t","t":"+ 0.0018933957·","x":1482,"y":270},{"p":"e","r":"t","t":")","x":1540,"y":270},{"p":"e","r":"t","t":"= 0.7883","x":1537,"y":360},{"p":"e","r":"t","t":", °C","x":308,"y":458},{"p":"e","r":"t","t":",","x":1268,"y":1318},{"p":"e","r":"t","t":"°","x":1303,"y":1318},{"p":"e","r":"t","t":"= 40 m/s","x":1515,"y":1525},
{"p":"e","r":"i","t":"Θ","x":215,"y":178},{"p":"e","r":"i","t":"n","x":1370,"y":178},{"p":"e","r":"i","t":"α","x":1516,"y":270},{"p":"e","r":"i","t":"R","x":1270,"y":360},{"p":"e","r":"i","t":"Θ","x":100,"y":458},{"p":"e","r":"i","t":"α","x":1235,"y":1318},{"p":"e","r":"i","t":"n","x":310,"y":1315},{"p":"e","r":"i","t":"v","x":1232,"y":1525},
{"p":"e","r":"u","t":"w max","x":306,"y":190},{"p":"e","r":"u","t":"channels","x":1495,"y":190},{"p":"e","r":"u","t":"w max","x":188,"y":470},{"p":"e","r":"u","t":"channels","x":435,"y":1330},{"p":"e","r":"u","t":"s","x":1248,"y":1545},
{"p":"f","r":"t","t":"f)","x":75,"y":90},{"p":"f","r":"t","t":"Minimum workpiece temperature","x":1537,"y":90},{"p":"f","r":"t","t":"= exp(4.8352438 – 0.013262632·","x":1328,"y":178},{"p":"f","r":"t","t":"+","x":1537,"y":178},{"p":"f","r":"t","t":"+ 0.017012666·","x":1478,"y":270},{"p":"f","r":"t","t":")","x":1537,"y":270},{"p":"f","r":"t","t":"= 0.8615","x":1535,"y":360},{"p":"f","r":"t","t":", °C","x":298,"y":458},{"p":"f","r":"t","t":",","x":1262,"y":1318},{"p":"f","r":"t","t":"°","x":1298,"y":1318},{"p":"f","r":"t","t":"= 40 m/s","x":1512,"y":1525},
{"p":"f","r":"i","t":"Θ","x":285,"y":178},{"p":"f","r":"i","t":"n","x":1363,"y":178},{"p":"f","r":"i","t":"α","x":1512,"y":270},{"p":"f","r":"i","t":"R","x":1268,"y":360},{"p":"f","r":"i","t":"Θ","x":97,"y":458},{"p":"f","r":"i","t":"α","x":1232,"y":1318},{"p":"f","r":"i","t":"n","x":308,"y":1315},{"p":"f","r":"i","t":"v","x":1228,"y":1525},
{"p":"f","r":"u","t":"w min","x":370,"y":190},{"p":"f","r":"u","t":"channels","x":1488,"y":190},{"p":"f","r":"u","t":"w min","x":180,"y":470},{"p":"f","r":"u","t":"channels","x":433,"y":1330},{"p":"f","r":"u","t":"s","x":1245,"y":1545},
{"p":"a","r":"k","t":"62","x":131,"y":603},{"p":"a","r":"k","t":"60","x":144,"y":684},{"p":"a","r":"k","t":"58","x":159,"y":762},{"p":"a","r":"k","t":"56","x":170,"y":834},{"p":"a","r":"k","t":"54","x":182,"y":905},{"p":"a","r":"k","t":"52","x":191,"y":957},{"p":"a","r":"k","t":"3","x":208,"y":993},{"p":"a","r":"k","t":"62","x":1440,"y":603},{"p":"a","r":"k","t":"60","x":1427,"y":684},{"p":"a","r":"k","t":"58","x":1413,"y":762},{"p":"a","r":"k","t":"56","x":1400,"y":834},{"p":"a","r":"k","t":"54","x":1388,"y":905},{"p":"a","r":"k","t":"52","x":1379,"y":957},{"p":"a","r":"k","t":"10","x":1372,"y":993},{"p":"a","r":"k","t":"6","x":469,"y":1239},{"p":"a","r":"k","t":"9","x":770,"y":1524},{"p":"a","r":"k","t":"15","x":810,"y":1524},{"p":"a","r":"k","t":"12,5","x":1123,"y":1240},
{"p":"b","r":"k","t":"49","x":136,"y":649},{"p":"b","r":"k","t":"48","x":151,"y":736},{"p":"b","r":"k","t":"47","x":165,"y":817},{"p":"b","r":"k","t":"46","x":179,"y":898},{"p":"b","r":"k","t":"45","x":189,"y":958},{"p":"b","r":"k","t":"3","x":206,"y":995},{"p":"b","r":"k","t":"49","x":1431,"y":649},{"p":"b","r":"k","t":"48","x":1415,"y":736},{"p":"b","r":"k","t":"47","x":1402,"y":817},{"p":"b","r":"k","t":"46","x":1388,"y":898},{"p":"b","r":"k","t":"45","x":1378,"y":958},{"p":"b","r":"k","t":"10","x":1371,"y":995},{"p":"b","r":"k","t":"6","x":468,"y":1240},{"p":"b","r":"k","t":"12,5","x":1121,"y":1240},{"p":"b","r":"k","t":"9","x":768,"y":1522},{"p":"b","r":"k","t":"15","x":810,"y":1522},
{"p":"c","r":"k","t":"56,4","x":142,"y":607},{"p":"c","r":"k","t":"56","x":172,"y":705},{"p":"c","r":"k","t":"55,6","x":175,"y":803},{"p":"c","r":"k","t":"55,2","x":192,"y":888},{"p":"c","r":"k","t":"54,8","x":205,"y":960},{"p":"c","r":"k","t":"3","x":233,"y":995},{"p":"c","r":"k","t":"56,4","x":1478,"y":607},{"p":"c","r":"k","t":"56","x":1449,"y":705},{"p":"c","r":"k","t":"55,6","x":1445,"y":801},{"p":"c","r":"k","t":"55,2","x":1429,"y":888},{"p":"c","r":"k","t":"54,8","x":1418,"y":960},{"p":"c","r":"k","t":"10","x":1397,"y":995},{"p":"c","r":"k","t":"6","x":495,"y":1240},{"p":"c","r":"k","t":"12,5","x":1148,"y":1242},{"p":"c","r":"k","t":"9","x":795,"y":1524},{"p":"c","r":"k","t":"15","x":837,"y":1524},
{"p":"d","r":"k","t":"29,5","x":140,"y":607},{"p":"d","r":"k","t":"29","x":165,"y":674},{"p":"d","r":"k","t":"28,5","x":163,"y":738},{"p":"d","r":"k","t":"28","x":186,"y":800},{"p":"d","r":"k","t":"27,5","x":185,"y":860},{"p":"d","r":"k","t":"27","x":208,"y":918},{"p":"d","r":"k","t":"26,5","x":202,"y":960},{"p":"d","r":"k","t":"3","x":231,"y":995},{"p":"d","r":"k","t":"29,5","x":1476,"y":607},{"p":"d","r":"k","t":"29","x":1451,"y":674},{"p":"d","r":"k","t":"28,5","x":1453,"y":738},{"p":"d","r":"k","t":"28","x":1430,"y":800},{"p":"d","r":"k","t":"27,5","x":1431,"y":860},{"p":"d","r":"k","t":"27","x":1409,"y":918},{"p":"d","r":"k","t":"26,5","x":1415,"y":960},{"p":"d","r":"k","t":"10","x":1394,"y":995},{"p":"d","r":"k","t":"6","x":491,"y":1240},{"p":"d","r":"k","t":"12,5","x":1146,"y":1242},{"p":"d","r":"k","t":"9","x":792,"y":1524},{"p":"d","r":"k","t":"15","x":835,"y":1524},
{"p":"e","r":"k","t":"185","x":168,"y":590},{"p":"e","r":"k","t":"84,5","x":172,"y":645},{"p":"e","r":"k","t":"184","x":187,"y":700},{"p":"e","r":"k","t":"183,5","x":184,"y":752},{"p":"e","r":"k","t":"183","x":205,"y":803},{"p":"e","r":"k","t":"182,5","x":202,"y":853},{"p":"e","r":"k","t":"182","x":222,"y":900},{"p":"e","r":"k","t":"181,5","x":217,"y":932},{"p":"e","r":"k","t":"3","x":250,"y":966},{"p":"e","r":"k","t":"185","x":1452,"y":590},{"p":"e","r":"k","t":"184,5","x":1458,"y":645},{"p":"e","r":"k","t":"184","x":1434,"y":700},{"p":"e","r":"k","t":"183,5","x":1437,"y":752},{"p":"e","r":"k","t":"183","x":1417,"y":803},{"p":"e","r":"k","t":"182,5","x":1420,"y":853},{"p":"e","r":"k","t":"182","x":1398,"y":900},{"p":"e","r":"k","t":"181,5","x":1405,"y":932},{"p":"e","r":"k","t":"10","x":1378,"y":966},{"p":"e","r":"k","t":"6","x":503,"y":1206},{"p":"e","r":"k","t":"12,5","x":1137,"y":1208},{"p":"e","r":"k","t":"9","x":795,"y":1480},{"p":"e","r":"k","t":"15","x":836,"y":1480},
{"p":"f","r":"k","t":"160","x":122,"y":603},{"p":"f","r":"k","t":"155","x":134,"y":670},{"p":"f","r":"k","t":"150","x":144,"y":735},{"p":"f","r":"k","t":"145","x":155,"y":797},{"p":"f","r":"k","t":"140","x":165,"y":857},{"p":"f","r":"k","t":"135","x":175,"y":915},{"p":"f","r":"k","t":"130","x":182,"y":955},{"p":"f","r":"k","t":"3","x":206,"y":993},{"p":"f","r":"k","t":"160","x":1449,"y":603},{"p":"f","r":"k","t":"155","x":1438,"y":670},{"p":"f","r":"k","t":"150","x":1426,"y":735},{"p":"f","r":"k","t":"145","x":1415,"y":797},{"p":"f","r":"k","t":"140","x":1403,"y":857},{"p":"f","r":"k","t":"135","x":1393,"y":915},{"p":"f","r":"k","t":"130","x":1386,"y":955},{"p":"f","r":"k","t":"10","x":1371,"y":993},{"p":"f","r":"k","t":"6","x":467,"y":1238},{"p":"f","r":"k","t":"12,5","x":1121,"y":1238},{"p":"f","r":"k","t":"9","x":768,"y":1520},{"p":"f","r":"k","t":"15","x":810,"y":1520}
]},
"facet":{"field":"p","type":"nominal","title":null,"header":{"labels":false,"title":null,"labelPadding":0,"titlePadding":0,"labelColor":"#ffffff","titleColor":"#ffffff"}},
"spec":{"width":1290,"height":1142,
"encoding":{"x":{"field":"x","type":"quantitative","scale":{"domain":[0,1568]},"axis":null},"y":{"field":"y","type":"quantitative","scale":{"domain":[1568,0]},"axis":null}},
"layer":[
{"transform":[{"filter":"datum.r=='w'"}],"mark":{"type":"rule","stroke":"#dcdcdc","strokeWidth":1.5},"encoding":{"x2":{"field":"x2"},"y2":{"field":"y2"}}},
{"transform":[{"filter":"datum.r=='w'"}],"mark":{"type":"rule","stroke":"#dcdcdc","strokeWidth":1.5},"encoding":{"x":{"field":"x2","type":"quantitative","scale":{"domain":[0,1568]},"axis":null},"y":{"field":"y2","type":"quantitative","scale":{"domain":[1568,0]},"axis":null},"x2":{"field":"x3"},"y2":{"field":"y3"}}},
{"transform":[{"filter":"datum.r=='v'"}],"mark":{"type":"rule","stroke":"#dcdcdc","strokeWidth":1.5},"encoding":{"x2":{"field":"x2"},"y2":{"field":"y2"}}},
{"transform":[{"filter":"datum.r=='f'"}],"mark":{"type":"rule","stroke":"#9a9a9a","strokeWidth":1.8},"encoding":{"x2":{"field":"x2"},"y2":{"field":"y2"}}},
{"transform":[{"filter":"datum.r=='s'&&datum.p=='a'"}],"mark":{"type":"area","orient":"vertical","color":{"gradient":"linear","x1":0.5,"y1":-0.031,"x2":0.753,"y2":0.9,"stops":[{"offset":0,"color":"#0000ff"},{"offset":0.2,"color":"#00505a"},{"offset":0.33,"color":"#006a00"},{"offset":0.47,"color":"#00ae00"},{"offset":0.66,"color":"#ffff00"},{"offset":1,"color":"#ff0000"}]}},"encoding":{"y2":{"field":"y2"}}},
{"transform":[{"filter":"datum.r=='s'&&datum.p=='b'"}],"mark":{"type":"area","orient":"vertical","color":{"gradient":"linear","x1":0.5,"y1":-0.137,"x2":0.97,"y2":0.167,"stops":[{"offset":0,"color":"#0000ff"},{"offset":0.2,"color":"#00505a"},{"offset":0.33,"color":"#006a00"},{"offset":0.47,"color":"#00ae00"},{"offset":0.66,"color":"#ffff00"},{"offset":1,"color":"#ff0000"}]}},"encoding":{"y2":{"field":"y2"}}},
{"transform":[{"filter":"datum.r=='s'&&datum.p=='c'"}],"mark":{"type":"area","orient":"vertical","color":{"gradient":"linear","x1":0.5,"y1":0.9715,"x2":0.543,"y2":-0.027,"stops":[{"offset":0,"color":"#0000ff"},{"offset":0.2,"color":"#00505a"},{"offset":0.33,"color":"#006a00"},{"offset":0.47,"color":"#00ae00"},{"offset":0.66,"color":"#ffff00"},{"offset":1,"color":"#ff0000"}]}},"encoding":{"y2":{"field":"y2"}}},
{"transform":[{"filter":"datum.r=='s'&&datum.p=='d'"}],"mark":{"type":"area","orient":"vertical","color":{"gradient":"linear","x1":0.5,"y1":0.977,"x2":0.882,"y2":0.155,"stops":[{"offset":0,"color":"#0000ff"},{"offset":0.2,"color":"#00505a"},{"offset":0.33,"color":"#006a00"},{"offset":0.47,"color":"#00ae00"},{"offset":0.66,"color":"#ffff00"},{"offset":1,"color":"#ff0000"}]}},"encoding":{"y2":{"field":"y2"}}},
{"transform":[{"filter":"datum.r=='s'&&datum.p=='e'"}],"mark":{"type":"area","orient":"vertical","color":{"gradient":"linear","x1":0.5,"y1":0.975,"x2":0.704,"y2":0.018,"stops":[{"offset":0,"color":"#0000ff"},{"offset":0.2,"color":"#00505a"},{"offset":0.33,"color":"#006a00"},{"offset":0.47,"color":"#00ae00"},{"offset":0.66,"color":"#ffff00"},{"offset":1,"color":"#ff0000"}]}},"encoding":{"y2":{"field":"y2"}}},
{"transform":[{"filter":"datum.r=='s'&&datum.p=='f'"}],"mark":{"type":"area","orient":"vertical","color":{"gradient":"linear","x1":1.014,"y1":0.5,"x2":0.026,"y2":0.533,"stops":[{"offset":0,"color":"#0000ff"},{"offset":0.2,"color":"#00505a"},{"offset":0.33,"color":"#006a00"},{"offset":0.47,"color":"#00ae00"},{"offset":0.66,"color":"#ffff00"},{"offset":1,"color":"#ff0000"}]}},"encoding":{"y2":{"field":"y2"}}},
{"transform":[{"filter":"datum.r=='g'"}],"mark":{"type":"rule","stroke":"#000000","strokeOpacity":0.42,"strokeWidth":1.5},"encoding":{"x2":{"field":"x2"},"y2":{"field":"y2"}}},
{"transform":[{"filter":"datum.r=='b'"}],"mark":{"type":"rect","fill":"#e2e2e2","stroke":"#1a1a1a","strokeWidth":3.5},"encoding":{"x2":{"field":"x2"},"y2":{"field":"y2"}}},
{"transform":[{"filter":"datum.r=='t'"}],"mark":{"type":"text","font":"Liberation Serif","fontSize":58,"align":"right","baseline":"alphabetic","color":"#111111"},"encoding":{"text":{"field":"t"}}},
{"transform":[{"filter":"datum.r=='i'"}],"mark":{"type":"text","font":"Liberation Serif","fontStyle":"italic","fontSize":58,"align":"right","baseline":"alphabetic","color":"#111111"},"encoding":{"text":{"field":"t"}}},
{"transform":[{"filter":"datum.r=='u'"}],"mark":{"type":"text","font":"Liberation Serif","fontStyle":"italic","fontSize":29,"align":"right","baseline":"alphabetic","color":"#222222"},"encoding":{"text":{"field":"t"}}},
{"transform":[{"filter":"datum.r=='k'"}],"mark":{"type":"text","font":"Liberation Sans","fontSize":25,"align":"center","baseline":"middle","color":"#333333"},"encoding":{"text":{"field":"t"}}}
]}}
